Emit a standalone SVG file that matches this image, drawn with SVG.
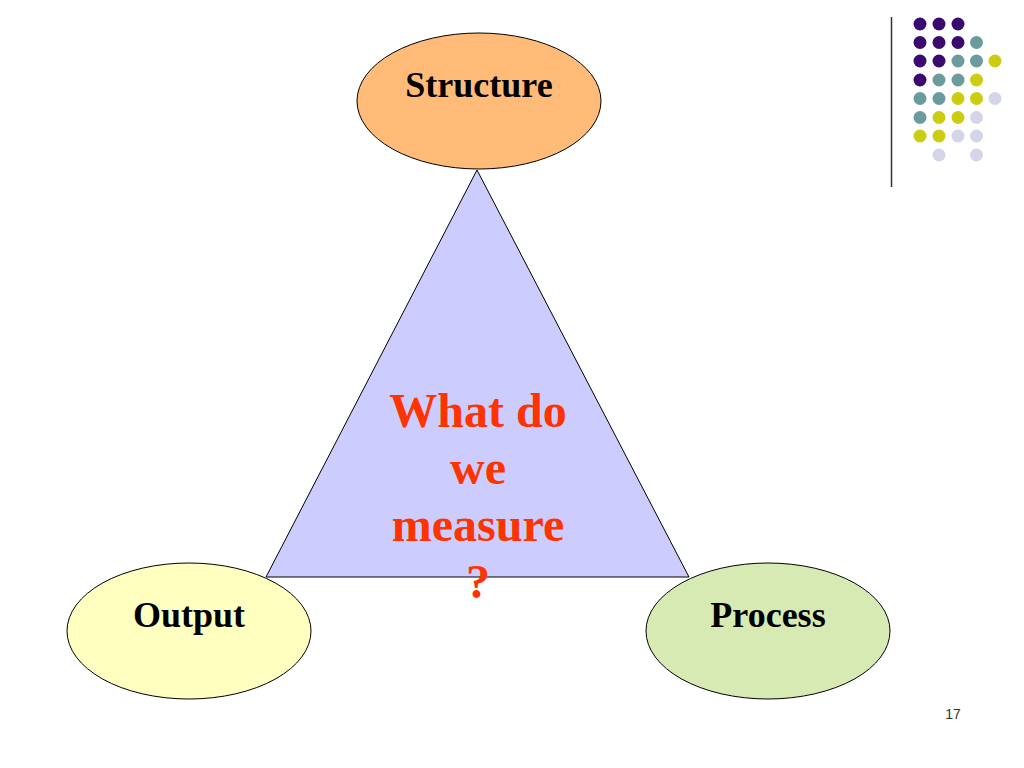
<svg xmlns="http://www.w3.org/2000/svg" width="1024" height="768" viewBox="0 0 1024 768">
<style>
.node{stroke:#000;stroke-width:1}
.lbl{font-family:"Liberation Serif","Times New Roman",serif;font-weight:bold;font-size:36px;fill:#000;text-anchor:middle}
.q{font-family:"Liberation Serif","Times New Roman",serif;font-weight:bold;font-size:48px;fill:#FF3300;text-anchor:middle}
.p{fill:#3B0A6E}.t{fill:#6B9B9C}.y{fill:#CCCC12}.l{fill:#D5D5EA}
</style>
<rect width="1024" height="768" fill="#fff"/>
<g id="decoration">
<line x1="891.5" y1="17" x2="891.5" y2="187" stroke="#333" stroke-width="1.5"/>
<g>
<circle class="p" cx="920" cy="24" r="6.5"/><circle class="p" cx="939" cy="24" r="6.5"/><circle class="p" cx="958" cy="24" r="6.5"/>
<circle class="p" cx="920" cy="42.5" r="6.5"/><circle class="p" cx="939" cy="42.5" r="6.5"/><circle class="p" cx="958" cy="42.5" r="6.5"/><circle class="t" cx="976.5" cy="42.5" r="6.5"/>
<circle class="p" cx="920" cy="61" r="6.5"/><circle class="p" cx="939" cy="61" r="6.5"/><circle class="t" cx="958" cy="61" r="6.5"/><circle class="t" cx="976.5" cy="61" r="6.5"/><circle class="y" cx="995" cy="61" r="6.5"/>
<circle class="p" cx="920" cy="80" r="6.5"/><circle class="t" cx="939" cy="80" r="6.5"/><circle class="t" cx="958" cy="80" r="6.5"/><circle class="y" cx="976.5" cy="80" r="6.5"/>
<circle class="t" cx="920" cy="98.5" r="6.5"/><circle class="t" cx="939" cy="98.5" r="6.5"/><circle class="y" cx="958" cy="98.5" r="6.5"/><circle class="y" cx="976.5" cy="98.5" r="6.5"/><circle class="l" cx="995" cy="98.5" r="6.5"/>
<circle class="t" cx="920" cy="117.5" r="6.5"/><circle class="y" cx="939" cy="117.5" r="6.5"/><circle class="y" cx="958" cy="117.5" r="6.5"/><circle class="l" cx="976.5" cy="117.5" r="6.5"/>
<circle class="y" cx="920" cy="136" r="6.5"/><circle class="y" cx="939" cy="136" r="6.5"/><circle class="l" cx="958" cy="136" r="6.5"/><circle class="l" cx="976.5" cy="136" r="6.5"/>
<circle class="l" cx="939" cy="155" r="6.5"/><circle class="l" cx="976.5" cy="155" r="6.5"/>
</g>
</g>
<g id="connectors">
<polygon id="triangle" points="477,170 266,577 689,577" fill="#CCCCFF" stroke="#000" stroke-width="1"/>
</g>
<g id="center-text">
<text class="q" x="478" y="427">What do</text>
<text class="q" x="478" y="484">we</text>
<text class="q" x="478" y="541">measure</text>
<text class="q" x="478" y="598">?</text>
</g>
<g id="structure">
<ellipse class="node" cx="479" cy="101" rx="122" ry="68" fill="#FFBB77"/>
<text class="lbl" x="479" y="97">Structure</text>
</g>
<g id="output">
<ellipse class="node" cx="189" cy="631" rx="122" ry="68" fill="#FFFFC0"/>
<text class="lbl" x="189" y="627">Output</text>
</g>
<g id="process">
<ellipse class="node" cx="768" cy="631" rx="122" ry="68" fill="#D8EAB4"/>
<text class="lbl" x="768" y="627">Process</text>
</g>
<text x="953" y="719" font-family="Liberation Sans, Arial, sans-serif" font-size="14" fill="#333" text-anchor="middle">17</text>
</svg>
